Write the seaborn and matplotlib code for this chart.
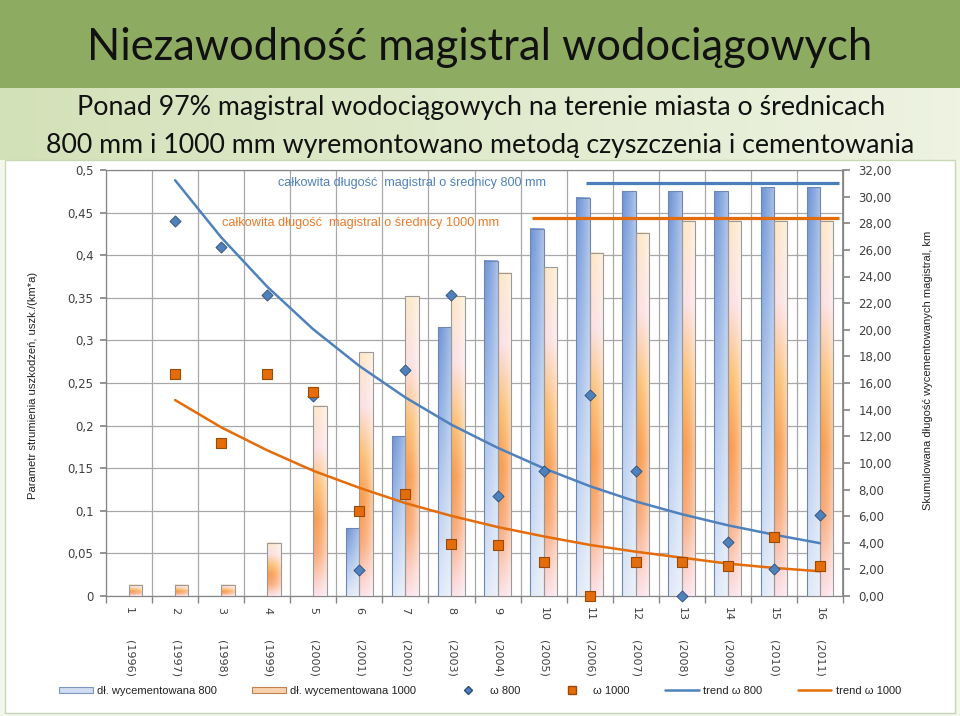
import numpy as np
import pandas as pd
import matplotlib
matplotlib.use("Agg")
import matplotlib.pyplot as plt
import seaborn as sns
from matplotlib import font_manager as fm
from matplotlib.colors import LinearSegmentedColormap, to_rgb
from matplotlib.patches import Rectangle, Patch
from matplotlib.lines import Line2D
import matplotlib.transforms as mtransforms
from matplotlib.ticker import FuncFormatter, MultipleLocator

# ---------------- data ----------------
kategorie = list(range(1, 17))
lata = list(range(1996, 2012))
dl_800 = [0, 0, 0, 0, 0, 5.1, 12.0, 20.2, 25.2, 27.6, 29.9, 30.4, 30.4, 30.4, 30.7, 30.7]
dl_1000 = [0.85, 0.85, 0.85, 4.0, 14.3, 18.3, 22.5, 22.5, 24.3, 24.7, 25.8, 27.3, 28.2, 28.2, 28.2, 28.2]
omega_800 = [np.nan, 0.44, 0.41, 0.353, 0.235, 0.03, 0.265, 0.353, 0.117, 0.147, 0.236, 0.147, 0.0, 0.063, 0.032, 0.095]
omega_1000 = [np.nan, 0.26, 0.18, 0.26, 0.24, 0.10, 0.12, 0.061, 0.06, 0.04, 0.0, 0.04, 0.04, 0.035, 0.069, 0.035]
trend_kat = list(range(2, 17))
trend_800 = [0.488, 0.421, 0.363, 0.313, 0.270, 0.233, 0.201, 0.174, 0.150, 0.129, 0.111, 0.096, 0.083, 0.072, 0.062]
trend_1000 = [0.230, 0.198, 0.171, 0.147, 0.127, 0.109, 0.094, 0.081, 0.070, 0.060, 0.052, 0.045, 0.038, 0.033, 0.029]
calk_800 = 31.0
calk_1000 = 28.4

title = "Niezawodność magistral wodociągowych"
sub1 = "Ponad 97% magistral wodociągowych na terenie miasta o średnicach"
sub2 = "800 mm i 1000 mm wyremontowano metodą czyszczenia i cementowania"
ylab_l = "Parametr strumienia uszkodzeń, uszk./(km*a)"
ylab_r = "Skumulowana długość wycementowanych magistral, km"
ann_800 = "całkowita długość  magistral o średnicy 800 mm"
ann_1000 = "całkowita długość  magistral o średnicy 1000 mm"
leg_labels = ["dł. wycementowana 800", "dł. wycementowana 1000", "ω 800", "ω 1000",
              "trend ω 800", "trend ω 1000"]

# ---------------- style ----------------
sns.set_theme(style="white")
names = {f.name for f in fm.fontManager.ttflist}
big_font = "Lato" if "Lato" in names else "DejaVu Sans"
narrow = "Liberation Sans Narrow" if "Liberation Sans Narrow" in names else "Liberation Sans"
plt.rcParams["font.family"] = ["DejaVu Sans"]

C_BLUE = "#4f81bd"
C_ORANGE = "#e46c0a"
GRID = "#a8a8a8"
TXT = "#404040"

fig = plt.figure(figsize=(9.6, 7.16), dpi=100, facecolor="#f3f7ec")

# background bands
bg = fig.add_axes([0, 0, 1, 1], zorder=-10)
bg.set_xlim(0, 1); bg.set_ylim(0, 1); bg.axis("off")
bg.add_patch(Rectangle((0, 1 - 88 / 716), 1, 88 / 716, color="#8eab62", lw=0))
grad = np.linspace(0, 1, 256)[None, :, None]
c0 = np.array(to_rgb("#d3e1b8")); c1 = np.array(to_rgb("#eef3e2"))
bg.imshow(c0 * (1 - grad) + c1 * grad, extent=[0, 1, 1 - 160 / 716, 1 - 88 / 716],
          aspect="auto", zorder=1)
bg.add_patch(Rectangle((5 / 960, 1 - 713 / 716), 950 / 960, (713 - 160) / 716,
                       facecolor="white", edgecolor="#c9d8b2", lw=1.0, zorder=2))
bg.set_xlim(0, 1); bg.set_ylim(0, 1)

fig.subplots_adjust(left=106 / 960, right=843 / 960, bottom=1 - 596 / 716, top=1 - 170 / 716)
ax = fig.add_subplot(111)
ax2 = ax.twinx()
ax3 = ax.twinx()

pos = np.arange(len(kategorie))

# ---------------- bars (right axis) ----------------
df = pd.DataFrame({
    "kat": kategorie * 2,
    "seria": ["800"] * len(kategorie) + ["1000"] * len(kategorie),
    "dl": dl_800 + dl_1000,
})
pal = {"800": "#7f9fd8", "1000": "#f9a65a"}
sns.barplot(data=df, x="kat", y="dl", hue="seria", hue_order=["800", "1000"],
            palette=pal, width=0.58, ax=ax2, legend=False, saturation=1,
            edgecolor="#8a8a8a", linewidth=0.8)
ax2.set_ylim(0, 32)


def bar_img(stops, wfun, n=256, m=32):
    cm = LinearSegmentedColormap.from_list("g", stops)
    v = cm(np.linspace(0, 1, n))[:, :3]
    xs = np.linspace(0, 1, m)
    w = wfun(xs)
    return v[:, None, :] * (1 - w[None, :, None]) + w[None, :, None]


img_blue = bar_img([(0, "#6c93d6"), (0.3, "#8dade2"), (0.65, "#b9ceef"), (1, "#e0e9f7")],
                   lambda x: 0.02 + 0.42 * x ** 1.3)
img_orange = bar_img([(0, "#fde8c8"), (0.22, "#fbe0e4"), (0.42, "#fcbf74"),
                      (0.6, "#f89c50"), (0.78, "#f9aa78"), (0.92, "#fbcfc6"), (1, "#fbe2ea")],
                     lambda x: 0.5 * x ** 2)

for p in list(ax2.patches):
    if not isinstance(p, Rectangle):
        continue
    h = p.get_height()
    if h <= 0:
        p.set_visible(False)
        continue
    fc = np.array(p.get_facecolor()[:3])
    is_blue = np.allclose(fc, to_rgb(pal["800"]), atol=0.02)
    img = img_blue if is_blue else img_orange
    x0, y0 = p.get_x(), p.get_y()
    ax2.imshow(img, extent=[x0, x0 + p.get_width(), y0, y0 + h], aspect="auto",
               origin="upper", interpolation="bilinear", zorder=2)
    p.set_facecolor("none")
    p.set_edgecolor("#6f86b4" if is_blue else "#9a9a9a")
    p.set_linewidth(0.8)
    p.set_zorder(2.1)

ax2.hlines(calk_800, 9.93, 15.42, color="#4a7ebb", lw=2.3, zorder=5)
ax2.hlines(calk_1000, 8.74, 15.42, color=C_ORANGE, lw=2.3, zorder=5)
ax2.set_ylim(0, 32)
ax2.set_xlim(-0.5, 15.5)

# ---------------- points and trends (left axis) ----------------
sns.lineplot(x=pos[1:], y=trend_800, ax=ax3, color=C_BLUE, lw=1.8, legend=False)
sns.lineplot(x=pos[1:], y=trend_1000, ax=ax3, color=C_ORANGE, lw=1.8, legend=False)
sns.scatterplot(x=pos, y=omega_800, ax=ax3, marker="D", s=32, color=C_BLUE,
                edgecolor="#2c4d75", linewidth=0.6, legend=False, zorder=6, clip_on=False)
sns.scatterplot(x=pos, y=omega_1000, ax=ax3, marker="s", s=52, color=C_ORANGE,
                edgecolor="#9a4a08", linewidth=0.8, legend=False, zorder=6, clip_on=False)
ax3.set_ylim(0, 0.5)
ax3.yaxis.set_visible(False)
for s in ax3.spines.values():
    s.set_visible(False)

a8 = ax3.text((278 - 106) / 737, (596 - 183) / 426, ann_800, transform=ax3.transAxes,
              color=C_BLUE, fontsize=8, family=narrow, ha="left", va="center")
a10 = ax3.text((222 - 106) / 737, (596 - 223) / 426, ann_1000, transform=ax3.transAxes,
               color="#ec7a2a", fontsize=8, family=narrow, ha="left", va="center")

# ---------------- axes formatting ----------------
ax.set_ylim(0, 0.5)
ax.set_xlim(-0.5, 15.5)
ax.yaxis.set_major_locator(MultipleLocator(0.05))
ax.yaxis.set_major_formatter(FuncFormatter(lambda v, _: ("%g" % round(v, 3)).replace(".", ",")))
ax.set_axisbelow(True)
ax.grid(axis="y", which="major", color=GRID, lw=0.9)
ax.set_xticks(pos)
ax.set_xticklabels([str(k) for k in kategorie], rotation=-90, fontsize=8, color=TXT)
ax.set_xticks(np.arange(-0.5, 16, 1), minor=True)
ax.grid(axis="x", which="minor", color=GRID, lw=0.9)
ax.grid(axis="x", which="major", visible=False)
ax.tick_params(axis="x", which="major", length=0, pad=8)
ax.tick_params(axis="x", which="minor", length=5, color="#868686", direction="out", bottom=True)
ax.tick_params(axis="y", length=4, color="#868686", direction="out", left=True,
               labelsize=8.5, labelcolor=TXT, pad=5)
ax.set_xlabel(""); ax.set_ylabel("")
for s in ax.spines.values():
    s.set_color("#868686"); s.set_linewidth(0.9)

ax2.yaxis.set_major_locator(MultipleLocator(2))
ax2.yaxis.set_major_formatter(FuncFormatter(lambda v, _: ("%.2f" % v).replace(".", ",")))
ax2.tick_params(axis="y", length=5, color="#868686", direction="out", right=True,
                labelsize=8.5, labelcolor=TXT, pad=6)
ax2.set_ylabel(""); ax2.set_xlabel("")
for s in ax2.spines.values():
    s.set_visible(False)
ax2.spines["right"].set_visible(True)
ax2.spines["right"].set_color("#868686")

# re-apply shared x ticks (barplot may have changed them)
ax.set_xticks(pos)
ax.set_xticklabels([str(k) for k in kategorie], rotation=-90, fontsize=8, color=TXT)
ax.set_xticks(np.arange(-0.5, 16, 1), minor=True)
ax.set_xlim(-0.5, 15.5)

trans = mtransforms.blended_transform_factory(ax.transData, ax.transAxes)
for p_, y_ in zip(pos, lata):
    ax.text(p_, -(640 - 596) / 426, f"({y_})", transform=trans, rotation=-90,
            ha="center", va="top", fontsize=8, color=TXT)

# ---------------- titles and labels ----------------
renderer = fig.canvas.get_renderer()


def fit(t, target, vertical=False):
    bb = t.get_window_extent(renderer)
    cur = bb.height if vertical else bb.width
    t.set_fontsize(t.get_fontsize() * target / cur)


fit(a8, 270)
fit(a10, 278)

t0 = fig.text(480 / 960, 1 - 60 / 716, title, ha="center", va="baseline",
              family=big_font, fontsize=30, color="#111111")
fit(t0, 784)
t1 = fig.text(481 / 960, 1 - 115 / 716, sub1, ha="center", va="baseline",
              family=big_font, fontsize=18, color="#111111")
fit(t1, 806)
t2 = fig.text(480 / 960, 1 - 153 / 716, sub2, ha="center", va="baseline",
              family=big_font, fontsize=18, color="#111111")
fit(t2, 866)

tl = fig.text(33 / 960, 1 - 385 / 716, ylab_l, rotation=90, ha="center", va="center",
              family=narrow, fontsize=8, color="#222222")
fit(tl, 230, vertical=True)
tr = fig.text(928 / 960, 1 - 370 / 716, ylab_r, rotation=90, ha="center", va="center",
              family=narrow, fontsize=8, color="#222222")
fit(tr, 280, vertical=True)

# ---------------- legend ----------------
handles = [
    Patch(facecolor="#cfdcf1", edgecolor="#8096c0", lw=0.8),
    Patch(facecolor="#f9d3ae", edgecolor="#c08050", lw=0.8),
    Line2D([], [], marker="D", ls="none", color=C_BLUE, markeredgecolor="#2c4d75", markersize=4.5),
    Line2D([], [], marker="s", ls="none", color=C_ORANGE, markeredgecolor="#9a4a08", markersize=6),
    Line2D([], [], color=C_BLUE, lw=1.8),
    Line2D([], [], color=C_ORANGE, lw=1.8),
]
leg = fig.legend(handles, leg_labels, loc="center", bbox_to_anchor=(0.5, 1 - 691 / 716),
                 ncol=6, frameon=False, prop={"family": narrow, "size": 8},
                 columnspacing=3.2, handlelength=3.0, handleheight=0.5, handletextpad=0.4)
for t in leg.get_texts():
    t.set_color("#222222")

fig.savefig("out.png", dpi=100, facecolor=fig.get_facecolor())
